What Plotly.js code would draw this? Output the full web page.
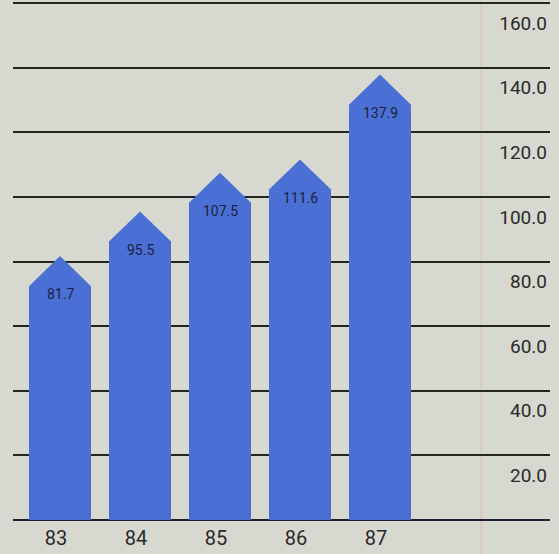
<!DOCTYPE html>
<html>
<head>
<meta charset="utf-8">
<script src="https://cdn.plot.ly/plotly-3.0.1.min.js"></script>
<style>
  html, body { margin: 0; padding: 0; background: #d7d8cf; }
  #chart { width: 559px; height: 554px; }
</style>
</head>
<body>
<div id="chart"></div>
<script>
// Yearly index values, one arrow-shaped column per year
const years = ['83', '84', '85', '86', '87'];
const values = [81.7, 95.5, 107.5, 111.6, 137.9];
const yTicks = [20, 40, 60, 80, 100, 120, 140, 160];

const barWidth = 0.775;   // column width in category units
const headHeight = 9.3;   // height of the arrow point in value units
const barColor = '#4a70d6';
const fontFamily = 'Roboto, "DejaVu Sans Condensed", sans-serif';

// Each column is a filled polygon: a rectangle topped by a point at the value
const traces = years.map((yr, i) => {
  const v = values[i];
  const l = i - barWidth / 2, r = i + barWidth / 2;
  return {
    type: 'scatter',
    mode: 'lines',
    x: [l, l, i, r, r, l],
    y: [0, v - headHeight, v, v - headHeight, 0, 0],
    fill: 'toself',
    fillcolor: barColor,
    line: { width: 0, color: barColor },
    hoverinfo: 'skip',
    showlegend: false
  };
});

// Value printed inside the top of each column
const annotations = years.map((yr, i) => ({
  x: i,
  y: values[i],
  yshift: -38,
  text: values[i].toFixed(1),
  showarrow: false,
  font: { family: fontFamily, size: 14, color: '#1c1f3d' }
}));

const layout = {
  width: 559,
  height: 554,
  margin: { l: 13, r: 9, t: 0, b: 34 },
  paper_bgcolor: '#d7d8cf',
  plot_bgcolor: '#d7d8cf',
  showlegend: false,
  xaxis: {
    range: [-0.5875, 6.125],
    tickvals: years.map((_, i) => i),
    ticktext: years,
    showgrid: false,
    zeroline: false,
    showline: false,
    ticks: '',
    ticklabelshift: -4,
    ticklabelstandoff: 4,
    tickfont: { family: fontFamily, size: 20, color: '#2a2a2a' },
    fixedrange: true
  },
  yaxis: {
    range: [0, 161],
    side: 'right',
    tickvals: yTicks,
    tickformat: '.1f',
    ticklabelposition: 'inside',
    ticklabelshift: 20,
    ticks: '',
    showgrid: true,
    gridcolor: '#23261f',
    gridwidth: 2,
    zeroline: true,
    zerolinecolor: '#1d2230',
    zerolinewidth: 2.5,
    showline: false,
    tickfont: { family: fontFamily, size: 19, color: '#2a2a2a' },
    fixedrange: true
  },
  annotations: annotations,
  shapes: [{
    // faint pink guide line running down the right side
    type: 'line', xref: 'paper', yref: 'paper',
    x0: (481 - 13) / 537, x1: (481 - 13) / 537, y0: -0.07, y1: 1,
    line: { color: 'rgba(230,150,150,0.4)', width: 1 },
    layer: 'below'
  }]
};

Plotly.newPlot('chart', traces, layout, { displayModeBar: false, staticPlot: true });
</script>
</body>
</html>
